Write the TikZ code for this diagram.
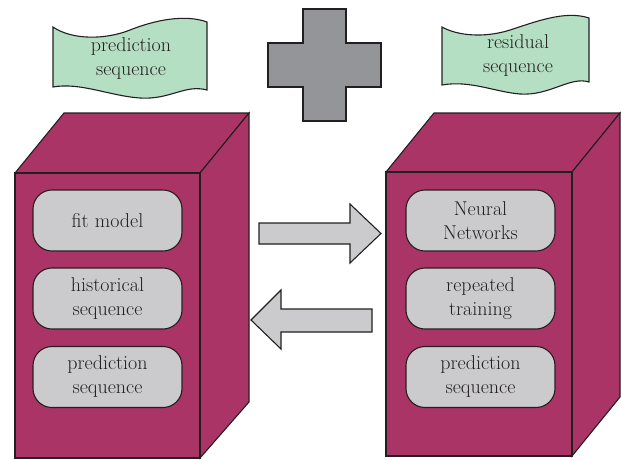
\documentclass[tikz,border=0pt]{standalone}
\usetikzlibrary{positioning}
\definecolor{boxred}{HTML}{AB3466}
\definecolor{inner}{HTML}{CBCBCD}
\definecolor{bannerg}{HTML}{B5DFC3}
\definecolor{plusg}{HTML}{939598}
\definecolor{ink}{HTML}{231F20}
\tikzset{
  outl/.style={draw=ink, line width=1.1pt, line join=miter},
  face/.style={outl, fill=boxred},
  innerbox/.style={outl, fill=inner, rounded corners=19pt, minimum width=149pt, minimum height=61pt, align=center, text=ink, font=\fontsize{20}{24}\selectfont, inner sep=0pt},
  banner/.style={outl, fill=bannerg},
  bantext/.style={align=center, text=ink, font=\fontsize{20}{24}\selectfont, inner sep=0pt},
  arrowshape/.style={outl, fill=inner},
}
\begin{document}
\begin{tikzpicture}[x=1pt,y=-1pt]
\useasboundingbox (0,0) rectangle (622,459);
% left banner
\path[banner] (53,27) .. controls (72,40) and (105,40) .. (130,30) .. controls (155,20) and (185,14) .. (207,22)
  -- (207,90) .. controls (185,84) and (170,100) .. (140,98) .. controls (110,96) and (80,82) .. (53,87) -- cycle;
\node[bantext] (lbt) at (131,59) {prediction\\sequence};
% right banner
\path[banner] (442,27) .. controls (458,36) and (485,38) .. (510,30) .. controls (535,22) and (565,10) .. (589,18)
  -- (589,82) .. controls (570,76) and (550,96) .. (520,94) .. controls (495,92) and (470,80) .. (442,85) -- cycle;
\node[bantext] (rbt) at (518,56) {residual\\sequence};
% plus
\path[outl, fill=plusg] (303,9) -- (346,9) -- (346,43) -- (381,43) -- (381,87) -- (346,87) -- (346,121)
  -- (303,121) -- (303,87) -- (268,87) -- (268,43) -- (303,43) -- cycle;
% left box
\path[face] (15,173) -- (64,113) -- (249,113) -- (200,173) -- cycle;
\path[face] (200,173) -- (249,113) -- (249,402) -- (200,458) -- cycle;
\path[face] (15,173) rectangle (200,458);
% right box
\path[face] (386,172) -- (434,113) -- (620,113) -- (572,172) -- cycle;
\path[face] (572,172) -- (620,113) -- (620,397) -- (572,456) -- cycle;
\path[face] (386,172) rectangle (572,456);
% inner boxes
\node[innerbox] (fit) at (107.5,220.5) {fit model};
\node[innerbox] (hist) at (107.5,298.5) {historical\\sequence};
\node[innerbox] (lpred) at (107.5,377) {prediction\\sequence};
\node[innerbox] (nn) at (480.5,220.5) {Neural\\Networks};
\node[innerbox] (rep) at (480.5,298.5) {repeated\\training};
\node[innerbox] (rpred) at (480.5,377) {prediction\\sequence};
% arrows
\path[arrowshape] (259,223) -- (350,223) -- (350,204) -- (381,233.5) -- (350,263) -- (350,244) -- (259,244) -- cycle;
\path[arrowshape] (372,309) -- (281,309) -- (281,290) -- (251,320) -- (281,349) -- (281,332) -- (372,332) -- cycle;
\end{tikzpicture}
\end{document}
